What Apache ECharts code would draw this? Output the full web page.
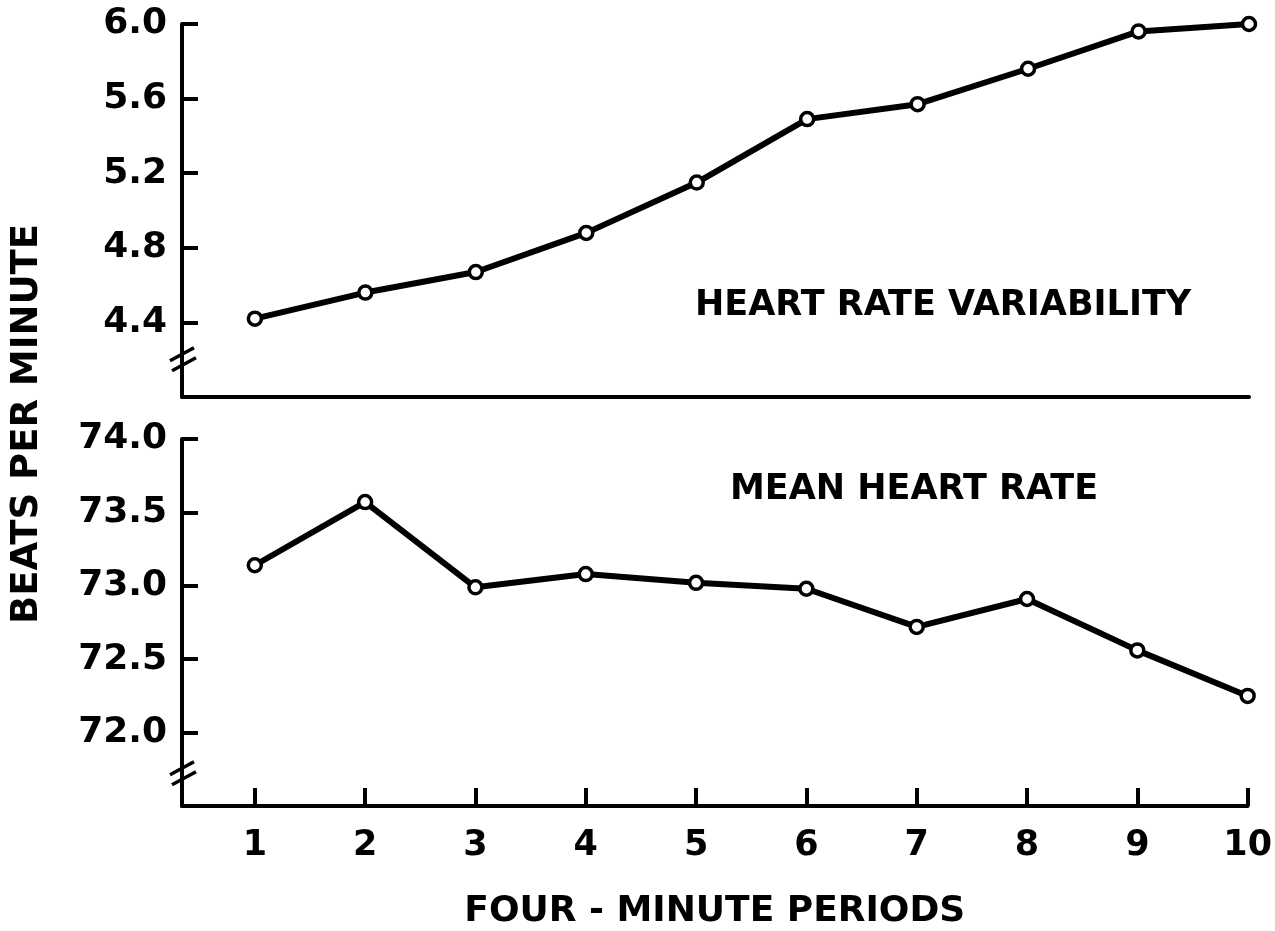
<!DOCTYPE html>
<html>
<head>
<meta charset="utf-8">
<title>Heart rate</title>
<script src="https://cdn.jsdelivr.net/npm/echarts@6.0.0/dist/echarts.min.js"></script>
<style>
  html, body { margin: 0; padding: 0; background: #fff; }
  #heartChart { width: 1275px; height: 931px; }
</style>
</head>
<body>
<div id="heartChart"></div>
<script>
// four-minute periods
var periods = [1, 2, 3, 4, 5, 6, 7, 8, 9, 10];
// heart rate variability (beats per minute)
var hrvValues = [4.42, 4.56, 4.67, 4.88, 5.15, 5.49, 5.57, 5.76, 5.96, 6.0];
// mean heart rate (beats per minute)
var meanValues = [73.14, 73.57, 72.99, 73.08, 73.02, 72.98, 72.72, 72.91, 72.56, 72.25];
// tick labels
var hrvTicks = [4.4, 4.8, 5.2, 5.6, 6.0];
var meanTicks = [72.0, 72.5, 73.0, 73.5, 74.0];

var FONT = "DejaVu Sans";
var INK = "#000";
var X_MIN = 0.34;

var myChart = echarts.init(document.getElementById("heartChart"));

function pairs(vals) {
  return periods.map(function (p, i) { return [p, vals[i]]; });
}

function lineSeries(name, idx, vals) {
  return {
    name: name,
    type: "line",
    xAxisIndex: idx,
    yAxisIndex: idx,
    data: pairs(vals),
    symbol: "circle",
    symbolSize: 13,
    clip: false,
    lineStyle: { color: INK, width: 6 },
    itemStyle: { color: "#fff", borderColor: INK, borderWidth: 3.5 },
    z: 5
  };
}

function xAxisOf(idx, showTicks) {
  return {
    type: "value",
    gridIndex: idx,
    min: X_MIN,
    max: 10,
    axisLine: { show: true, lineStyle: { color: INK, width: 4 } },
    axisTick: {
      show: showTicks,
      inside: true,
      length: 18,
      customValues: periods,
      lineStyle: { color: INK, width: 4 }
    },
    axisLabel: {
      show: showTicks,
      customValues: periods,
      margin: 22,
      color: INK,
      fontFamily: FONT,
      fontWeight: "bold",
      fontSize: 35
    },
    splitLine: { show: false },
    name: showTicks ? "FOUR - MINUTE PERIODS" : "",
    nameLocation: "middle",
    nameGap: 88,
    nameTextStyle: { color: INK, fontFamily: FONT, fontWeight: "bold", fontSize: 36 }
  };
}

function yAxisOf(idx, min, max, ticks) {
  return {
    type: "value",
    gridIndex: idx,
    min: min,
    max: max,
    axisLine: { show: true, lineStyle: { color: INK, width: 4 } },
    axisTick: {
      show: true,
      inside: true,
      length: 16,
      customValues: ticks,
      lineStyle: { color: INK, width: 4 }
    },
    axisLabel: {
      customValues: ticks,
      margin: 15,
      color: INK,
      fontFamily: FONT,
      fontWeight: "bold",
      fontSize: 36,
      formatter: function (v) { return v.toFixed(1); }
    },
    splitLine: { show: false }
  };
}

function textItem(id, x, y, text, size, rotation) {
  return {
    id: id,
    type: "text",
    x: x,
    y: y,
    rotation: rotation || 0,
    style: {
      text: text,
      fill: INK,
      fontFamily: FONT,
      fontWeight: "bold",
      fontSize: size,
      align: rotation ? "center" : "left",
      verticalAlign: "middle"
    }
  };
}

// axis break marks ("//") near the bottom of each y axis
function breakMark(id, idx, value) {
  var x = myChart.convertToPixel({ xAxisIndex: idx }, X_MIN);
  var y = myChart.convertToPixel({ yAxisIndex: idx }, value);
  return {
    id: id,
    type: "group",
    children: [
      { type: "line", shape: { x1: x - 12, y1: y + 1, x2: x + 12, y2: y - 12 },
        style: { stroke: INK, lineWidth: 3.5 } },
      { type: "line", shape: { x1: x - 10, y1: y + 11, x2: x + 14, y2: y - 2 },
        style: { stroke: INK, lineWidth: 3.5 } }
    ]
  };
}

var labels = [
  textItem("yTitle", 27, 424, "BEATS PER MINUTE", 37, Math.PI / 2),
  textItem("hrvName", 695, 306, "HEART RATE VARIABILITY", 35),
  textItem("meanName", 730, 490, "MEAN HEART RATE", 35)
];

var option = {
  animation: false,
  backgroundColor: "#fff",
  grid: [
    { left: 182, right: 26, top: 24, bottom: 534 },
    { left: 182, right: 26, top: 439, bottom: 117 }
  ],
  xAxis: [xAxisOf(0, false), xAxisOf(1, true)],
  yAxis: [
    yAxisOf(0, 4.0, 6.0, hrvTicks),
    yAxisOf(1, 71.5, 74.0, meanTicks)
  ],
  series: [
    lineSeries("HEART RATE VARIABILITY", 0, hrvValues),
    lineSeries("MEAN HEART RATE", 1, meanValues)
  ],
  graphic: labels
};

myChart.setOption(option);

myChart.setOption({
  graphic: labels.concat([breakMark("brk0", 0, 4.2), breakMark("brk1", 1, 71.72)])
}, { replaceMerge: ["graphic"] });

window.addEventListener("resize", function () {
  myChart.resize();
});
</script>
</body>
</html>
